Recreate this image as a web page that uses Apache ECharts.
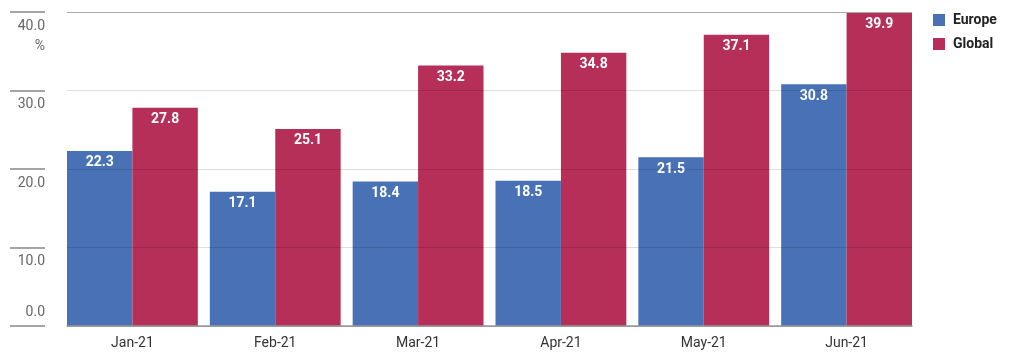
<!DOCTYPE html>
<html><head><meta charset="utf-8">
<script src="https://cdn.jsdelivr.net/npm/echarts@6/dist/echarts.min.js"></script>
<style>html,body{margin:0;padding:0;background:#fff}#c{width:1022px;height:359px}</style>
</head><body><div id="c"></div>
<script>
var categories = ['Jan-21','Feb-21','Mar-21','Apr-21','May-21','Jun-21'];
var europe = [22.3, 17.1, 18.4, 18.5, 21.5, 30.8];
var global = [27.8, 25.1, 33.2, 34.8, 37.1, 39.9];
var yTicks = [0, 10, 20, 30, 40];
var yUnit = '%';

var chart = echarts.init(document.getElementById('c'));
var labelStyle = {show:true, position:'insideTop', distance:5, color:'#fff', fontWeight:'bold', fontSize:14,
  fontFamily:'Roboto', formatter:function(p){return p.value.toFixed(1);}};
var yMax = yTicks[yTicks.length-1];
chart.setOption({
  animation:false,
  textStyle:{fontFamily:'Roboto'},
  legend:{orient:'vertical', left:933, top:13, padding:0, itemWidth:12, itemHeight:12, itemGap:10, icon:'rect',
    textStyle:{fontWeight:'bold', fontSize:14, lineHeight:14, color:'#222', fontFamily:'Roboto', padding:[0,0,0,3]},
    data:['Europe','Global']},
  grid:[
    {left:61, right:104, top:12, bottom:33, containLabel:false, outerBoundsMode:'none'},
    {left:67, right:110, top:12, bottom:33, containLabel:false, outerBoundsMode:'none'}
  ],
  xAxis:[
    {type:'category', gridIndex:0, data:categories, axisLine:{show:false}, axisTick:{show:false},
      axisLabel:{color:'#333', fontSize:14, margin:10}},
    {type:'category', gridIndex:1, data:categories, axisLine:{show:true, lineStyle:{color:'#999', width:1.5}},
      axisTick:{show:false}, axisLabel:{show:false}, z:5}
  ],
  yAxis:[
    {type:'value', gridIndex:0, min:yTicks[0], max:yMax, interval:10, offset:16,
      axisLine:{show:false}, splitLine:{show:false},
      axisTick:{show:true, length:35, lineStyle:{color:'#888', width:1.5}},
      name:yUnit, nameLocation:'end', nameGap:0,
      nameTextStyle:{align:'right', verticalAlign:'top', padding:[27,0,0,0], color:'#666', fontSize:14},
      axisLabel:{margin:0, color:'#666', fontSize:14,
        formatter:function(v){
          var s = v.toFixed(1);
          return v === 0 ? '{z|'+s+'}' : '{n|'+s+'}';
        },
        rich:{
          n:{padding:[28,0,0,0], fontSize:14, lineHeight:15, color:'#666', align:'right'},
          z:{padding:[0,0,28,0], fontSize:14, lineHeight:15, color:'#666', align:'right'}
        }}},
    {type:'value', gridIndex:1, min:yTicks[0], max:yMax, interval:10,
      axisLine:{show:false}, axisTick:{show:false}, axisLabel:{show:false}, z:5,
      splitLine:{show:true, lineStyle:{color:['#999','rgba(0,0,0,0.13)','rgba(0,0,0,0.13)','rgba(0,0,0,0.13)','#aaa'], width:1}}}
  ],
  series:[
    {name:'Europe', type:'bar', xAxisIndex:0, yAxisIndex:0, data:europe, barGap:'0%', barCategoryGap:'8.4%',
      itemStyle:{color:'#4872b5'}, label:labelStyle},
    {name:'Global', type:'bar', xAxisIndex:0, yAxisIndex:0, data:global, barGap:'0%', barCategoryGap:'8.4%',
      itemStyle:{color:'#b62f58'}, label:labelStyle}
  ]
});
</script></body></html>
